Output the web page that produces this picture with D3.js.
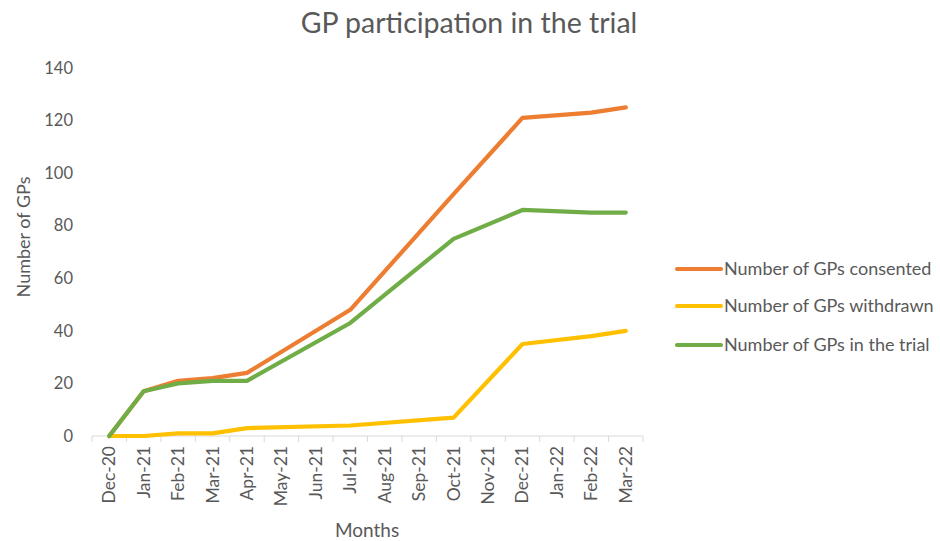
<!DOCTYPE html>
<html><head><meta charset="utf-8">
<script src="https://cdn.jsdelivr.net/npm/d3@7"></script>
<style>body{margin:0;background:#fff}svg{display:block}</style>
</head><body>
<svg id="c" width="940" height="541"></svg>
<script>
const months = ["Dec-20","Jan-21","Feb-21","Mar-21","Apr-21","May-21","Jun-21","Jul-21","Aug-21","Sep-21","Oct-21","Nov-21","Dec-21","Jan-22","Feb-22","Mar-22"];
const consented = [0,17,21,22,24,null,null,48,null,null,92,null,121,null,123,125];
const withdrawn = [0,0,1,1,3,null,null,4,null,null,7,null,35,null,38,40];
const inTrial   = [0,17,20,21,21,null,null,43,null,null,75,null,86,null,85,85];
const seriesNames = ["Number of GPs consented","Number of GPs withdrawn","Number of GPs in the trial"];
const seriesColors = ["#ED7D31","#FFC000","#70AD47"];
const yTicks = [0,20,40,60,80,100,120,140];

const font = "Lato, 'Open Sans', sans-serif";
const txt = "#595959";
const svg = d3.select("#c");

const x = d3.scaleBand().domain(months).range([92, 643]);
const y = d3.scaleLinear().domain([0,140]).range([436, 68]);
const cx = m => x(m) + x.bandwidth()/2;

svg.append("text").attr("x", 469).attr("y", 33).attr("text-anchor","middle")
  .attr("font-family", font).attr("font-size", 28.5).attr("fill", txt)
  .text("GP participation in the trial");

// x axis
const xa = svg.append("g").attr("transform","translate(0,436)")
  .call(d3.axisBottom(x).tickSizeInner(6).tickSizeOuter(6).tickFormat(""));
xa.select(".domain").attr("stroke","#D9D9D9").attr("d","M92,0H643");
xa.selectAll(".tick line").attr("stroke","#D9D9D9").attr("transform", `translate(${-x.bandwidth()/2},0)`);
svg.append("line").attr("x1",643).attr("x2",643).attr("y1",436).attr("y2",442).attr("stroke","#D9D9D9");

months.forEach(m => {
  svg.append("text")
    .attr("transform", `translate(${cx(m)+6},446) rotate(-90)`)
    .attr("text-anchor","end")
    .attr("font-family", font).attr("font-size", 17.5).attr("fill", txt)
    .text(m);
});

// y axis labels
const ya = svg.append("g").attr("transform","translate(73,0)")
  .call(d3.axisLeft(y).tickValues(yTicks).tickSize(0).tickPadding(0));
ya.select(".domain").remove();
ya.selectAll("text").attr("font-family", font).attr("font-size", 16.5).attr("fill", txt);

svg.append("text").attr("transform","translate(30,237) rotate(-90)").attr("text-anchor","middle")
  .attr("font-family", font).attr("font-size", 18).attr("fill", txt).text("Number of GPs");
svg.append("text").attr("x", 367).attr("y", 537).attr("text-anchor","middle")
  .attr("font-family", font).attr("font-size", 19).attr("fill", txt).text("Months");

// lines
const data = [consented, withdrawn, inTrial];
const line = d3.line().x(d => cx(d.m)).y(d => y(d.v));
data.forEach((vals, i) => {
  const pts = months.map((m, j) => ({m, v: vals[j]})).filter(d => d.v !== null);
  svg.append("path").attr("d", line(pts)).attr("fill","none")
    .attr("stroke", seriesColors[i]).attr("stroke-width", 4.2)
    .attr("stroke-linejoin","round").attr("stroke-linecap","round");
});

// legend
const legY = [269, 306, 345];
seriesNames.forEach((n, i) => {
  svg.append("line").attr("x1", 677).attr("x2", 721).attr("y1", legY[i]).attr("y2", legY[i])
    .attr("stroke", seriesColors[i]).attr("stroke-width", 4.2).attr("stroke-linecap","round");
  svg.append("text").attr("x", 724).attr("y", legY[i] + 6)
    .attr("font-family", font).attr("font-size", 18).attr("fill", txt).text(n);
});
</script>
</body></html>
